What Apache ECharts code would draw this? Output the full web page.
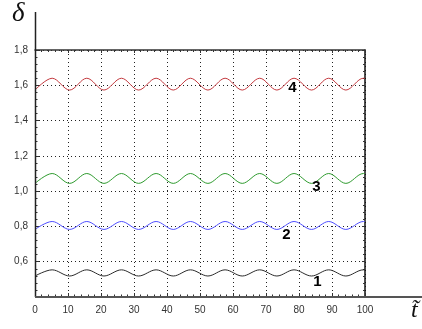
<!DOCTYPE html>
<html>
<head>
<meta charset="utf-8">
<script src="https://cdn.jsdelivr.net/npm/echarts@6/dist/echarts.min.js"></script>
<style>
  html, body { margin: 0; padding: 0; background: #fff; }
  #chart { width: 422px; height: 329px; }
</style>
</head>
<body>
<div id="chart"></div>
<script>
// Time points at the crests and troughs of each oscillation (dimensionless time)
const tCurve1 = [0, 5.2, 10.5, 15.7, 20.9, 26.2, 31.4, 36.7, 41.9, 47.1, 52.4, 57.6, 62.8, 68.1, 73.3, 78.5, 83.8, 89.0, 94.2, 99.5, 100];
const tCurve2 = [0, 5.2, 10.5, 15.7, 20.9, 26.2, 31.4, 36.7, 41.9, 47.1, 52.4, 57.6, 62.8, 68.1, 73.3, 78.5, 83.8, 89.0, 94.2, 99.5, 100];
const tCurve3 = [0, 5.2, 10.5, 15.7, 20.9, 26.2, 31.4, 36.7, 41.9, 47.1, 52.4, 57.6, 62.8, 68.1, 73.3, 78.5, 83.8, 89.0, 94.2, 99.5, 100];
const tCurve4 = [0, 5.2, 10.5, 15.7, 20.9, 26.2, 31.4, 36.7, 41.9, 47.1, 52.4, 57.6, 62.8, 68.1, 73.3, 78.5, 83.8, 89.0, 94.2, 99.5, 100];

// delta values at those points
const delta1 = [0.519, 0.554, 0.519, 0.554, 0.519, 0.554, 0.519, 0.554, 0.519, 0.554, 0.519, 0.554, 0.519, 0.554, 0.519, 0.554, 0.519, 0.554, 0.519, 0.554, 0.553];
const delta2 = [0.783, 0.828, 0.783, 0.828, 0.783, 0.828, 0.783, 0.828, 0.783, 0.828, 0.783, 0.828, 0.783, 0.828, 0.783, 0.828, 0.783, 0.828, 0.783, 0.828, 0.827];
const delta3 = [1.044, 1.100, 1.044, 1.100, 1.044, 1.100, 1.044, 1.100, 1.044, 1.100, 1.044, 1.100, 1.044, 1.100, 1.044, 1.100, 1.044, 1.100, 1.044, 1.100, 1.099];
const delta4 = [1.573, 1.640, 1.573, 1.640, 1.573, 1.640, 1.573, 1.640, 1.573, 1.640, 1.573, 1.640, 1.573, 1.640, 1.573, 1.640, 1.573, 1.640, 1.573, 1.640, 1.638];

const curveNames = ['1', '2', '3', '4'];
const curveColors = ['#2b2b2b', '#4f4fff', '#2e9b2e', '#c43a3f'];

// Where the curve numbers sit, in (t, delta) coordinates
const numberAnchors = [[85.6, 0.487], [76.2, 0.752], [85.3, 1.025], [78.0, 1.585]];

// Axis tick labels
const yTickLabels = { '0.4': '', '0.6': '0,6', '0.8': '0,8', '1': '1,0', '1.2': '1,2', '1.4': '1,4', '1.6': '1,6', '1.8': '1,8' };

const tSets = [tCurve1, tCurve2, tCurve3, tCurve4];
const dSets = [delta1, delta2, delta3, delta4];

const chart = echarts.init(document.getElementById('chart'), null, { renderer: 'canvas' });

const gridLeft = 35, gridRight = 57, gridTop = 50, gridBottom = 32;
const W = 422, H = 329;

const series = curveNames.map((name, i) => ({
  name: name,
  type: 'line',
  xAxisIndex: 0,
  yAxisIndex: 0,
  data: tSets[i].map((t, k) => [t, dSets[i][k]]),
  smooth: 0.34,
  showSymbol: false,
  symbol: 'none',
  lineStyle: { color: curveColors[i], width: 1 },
  itemStyle: { color: curveColors[i] },
  z: 3,
  markPoint: {
    symbol: 'rect',
    symbolSize: 1,
    itemStyle: { color: 'rgba(0,0,0,0)' },
    label: {
      show: true,
      position: 'inside',
      formatter: name,
      fontFamily: 'Liberation Sans, Arial, sans-serif',
      fontWeight: 'bold',
      fontSize: 15,
      color: '#000'
    },
    data: [{ coord: numberAnchors[i] }]
  }
}));

const option = {
  animation: false,
  backgroundColor: '#fff',
  grid: { left: gridLeft, right: gridRight, top: gridTop, bottom: gridBottom, containLabel: false },
  xAxis: [
    {
      type: 'value', position: 'bottom', min: 0, max: 100, interval: 10,
      axisLine: { show: false },
      axisTick: { show: true, inside: true, length: 4, lineStyle: { color: '#333', width: 1 } },
      minorTick: { show: true, splitNumber: 5, length: 2.5, lineStyle: { color: '#333', width: 1 } },
      splitLine: { show: true, lineStyle: { color: '#222', width: 1, type: [1, 3] } },
      axisLabel: { color: '#333', fontSize: 10, fontFamily: 'Liberation Sans, Arial, sans-serif', margin: 8 }
    },
    {
      type: 'value', position: 'top', min: 0, max: 100, interval: 10,
      axisLine: { show: true, onZero: false, lineStyle: { color: '#333', width: 1.5 } },
      axisTick: { show: true, inside: true, length: 3, lineStyle: { color: '#333' } },
      minorTick: { show: true, splitNumber: 5, length: 2, lineStyle: { color: '#333' } },
      splitLine: { show: false },
      axisLabel: { show: false }
    }
  ],
  yAxis: [
    {
      type: 'value', position: 'left', min: 0.4, max: 1.8, interval: 0.2,
      axisLine: { show: false },
      axisTick: { show: true, inside: true, length: 4, lineStyle: { color: '#333', width: 1 } },
      minorTick: { show: true, splitNumber: 5, length: 2.5, lineStyle: { color: '#333', width: 1 } },
      splitLine: { show: true, lineStyle: { color: '#222', width: 1, type: [1, 3] } },
      axisLabel: {
        color: '#333', fontSize: 10, fontFamily: 'Liberation Sans, Arial, sans-serif', margin: 7,
        formatter: v => yTickLabels[String(Math.round(v * 10) / 10)] ?? ''
      }
    },
    {
      type: 'value', position: 'right', min: 0.4, max: 1.8, interval: 0.2,
      axisLine: { show: true, onZero: false, lineStyle: { color: '#111', width: 1.5 } },
      axisTick: { show: true, inside: true, length: 3, lineStyle: { color: '#333' } },
      minorTick: { show: true, splitNumber: 5, length: 2, lineStyle: { color: '#333' } },
      splitLine: { show: false },
      axisLabel: { show: false }
    }
  ],
  series: series,
  graphic: [
    // vertical axis line running up past the frame
    { type: 'line', z: 10, shape: { x1: gridLeft + 0.5, y1: 12, x2: gridLeft + 0.5, y2: H - gridBottom }, style: { stroke: '#222', lineWidth: 1.5 } },
    // horizontal axis line running out to the right edge
    { type: 'line', z: 10, shape: { x1: gridLeft, y1: H - gridBottom, x2: W, y2: H - gridBottom }, style: { stroke: '#555', lineWidth: 1.8 } },
    // axis symbols
    { type: 'text', z: 10, left: 12, top: 0, style: { text: 'δ', font: 'italic 27px "Liberation Serif", "DejaVu Serif", serif', fill: '#111' } },
    { type: 'text', z: 10, left: 411, top: 299, style: { text: 't\u0303', font: 'italic 24px "Liberation Serif", "DejaVu Serif", serif', fill: '#111' } }
  ]
};

chart.setOption(option);
</script>
</body>
</html>
